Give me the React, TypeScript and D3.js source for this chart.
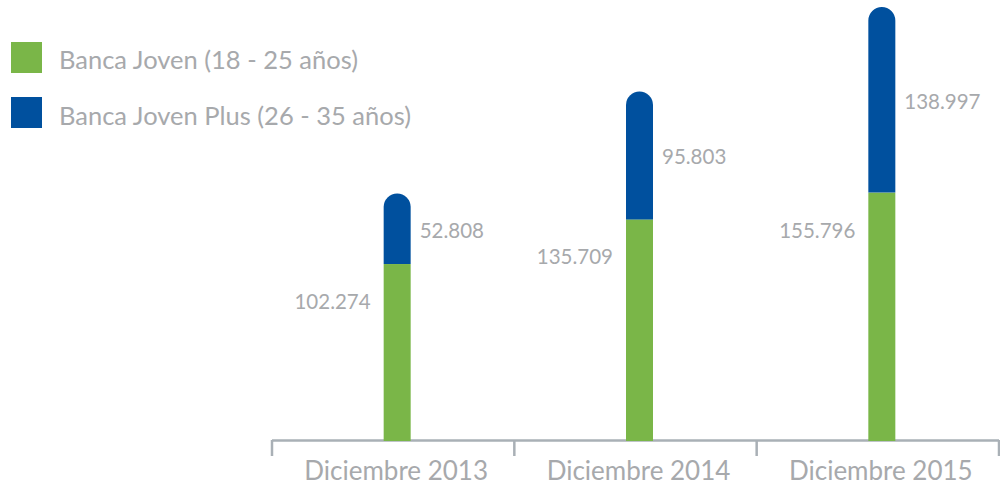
import React from "react";
import * as d3 from "d3";

const categories = ["Diciembre 2013", "Diciembre 2014", "Diciembre 2015"];
const jovenValues = [102274, 135709, 155796];
const plusValues = [52808, 95803, 138997];
const jovenLabels = ["102.274", "135.709", "155.796"];
const plusLabels = ["52.808", "95.803", "138.997"];
const seriesNames = ["Banca Joven (18 - 25 años)", "Banca Joven Plus (26 - 35 años)"];

const GREEN = "#7ab648";
const BLUE = "#00509e";
const TEXT = "#a7a9ac";
const AXIS = "#a9b0b6";
const FONT = "Lato, 'Open Sans', sans-serif";

export default function App() {
  const W = 1000, H = 485;
  const base = 440;
  const x = d3.scaleBand<string>().domain(categories).range([272, 999]).paddingInner(0).paddingOuter(0);
  const y = d3.scaleLinear().domain([-29500, 300000]).range([base, 0]);
  const bw = 27;
  const r = bw / 2;

  const ticks = [...categories.map((c) => x(c) as number), 999];

  return (
    <svg width={W} height={H} style={{ position: "absolute", left: 0, top: 0, background: "#fff" }}>
      {/* legend */}
      <rect x={11} y={42} width={31} height={31} fill={GREEN} />
      <rect x={11} y={97} width={31} height={31} fill={BLUE} />
      <text x={59} y={69} fontFamily={FONT} fontSize={25.5} fill={TEXT}>{seriesNames[0]}</text>
      <text x={59} y={125} fontFamily={FONT} fontSize={25.5} fill={TEXT}>{seriesNames[1]}</text>

      {/* axis */}
      <line x1={272} x2={999} y1={base + 0.5} y2={base + 0.5} stroke={AXIS} strokeWidth={2.5} />
      {ticks.map((t, i) => (
        <line key={i} x1={t} x2={t} y1={base} y2={456} stroke={AXIS} strokeWidth={2.5} />
      ))}

      {categories.map((c, i) => {
        const cx = (x(c) as number) + x.bandwidth() / 2 + 4;
        const x0 = cx - bw / 2;
        const x1 = cx + bw / 2;
        const yG = y(jovenValues[i]);
        const yT = y(jovenValues[i] + plusValues[i]);
        const bluePath = `M${x0},${yG} L${x0},${yT + r} A${r},${r} 0 0 1 ${x1},${yT + r} L${x1},${yG} Z`;
        return (
          <g key={c}>
            <rect x={x0} y={yG} width={bw} height={base + 1 - yG} fill={GREEN} />
            <path d={bluePath} fill={BLUE} />
            <text x={x1 + 9} y={(yT + yG) / 2 + 9} fontFamily={FONT} fontSize={20.5} fill={TEXT}>{plusLabels[i]}</text>
            <text x={x0 - 13} y={yG + 45} fontFamily={FONT} fontSize={20.5} fill={TEXT} textAnchor="end">{jovenLabels[i]}</text>
            <text x={cx - 1} y={480} fontFamily={FONT} fontSize={26} fill={TEXT} textAnchor="middle">{c}</text>
          </g>
        );
      })}
    </svg>
  );
}
